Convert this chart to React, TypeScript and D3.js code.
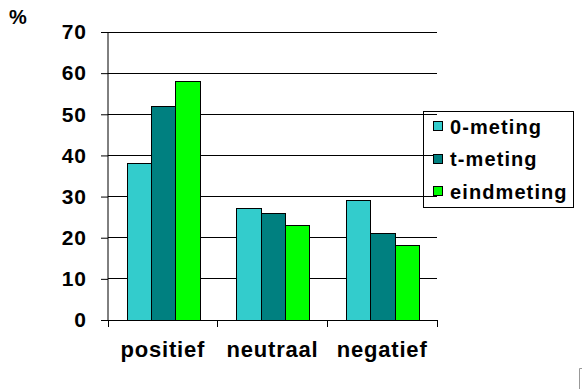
import React, { useEffect, useRef } from "react";
import * as d3 from "d3";

const categories = ["positief", "neutraal", "negatief"];
const seriesNames = ["0-meting", "t-meting", "eindmeting"];
const nulMeting = [38, 27, 29];
const tMeting = [52, 26, 21];
const eindMeting = [58, 23, 18];
const yTicks = [0, 10, 20, 30, 40, 50, 60, 70];
const colors = ["#33CCCC", "#008080", "#00FF00"];

const FONT = "'Liberation Sans', Arial, sans-serif";

export default function App() {
  const ref = useRef<SVGSVGElement | null>(null);

  useEffect(() => {
    if (!ref.current) return;
    const svg = d3.select(ref.current);
    svg.selectAll("*").remove();

    const left = 108;
    const right = 437;
    const top = 32;
    const bottom = 320;

    const values = [nulMeting, tMeting, eindMeting];

    const x = d3.scaleBand().domain(categories).range([left, right]).padding(0);
    const y = d3.scaleLinear().domain([0, 70]).range([bottom, top]);
    // bars take about 2/3 of each category, shifted a bit from the left
    const inner = d3
      .scaleBand()
      .domain(seriesNames)
      .range([19, 19 + 73]);

    // gridlines
    svg
      .append("g")
      .selectAll("line")
      .data(yTicks.filter((d) => d > 0))
      .enter()
      .append("line")
      .attr("x1", left)
      .attr("x2", right)
      .attr("y1", (d) => y(d))
      .attr("y2", (d) => y(d))
      .attr("stroke", "#000")
      .attr("stroke-width", 1)
      .attr("shape-rendering", "crispEdges");

    // bars
    categories.forEach((cat, ci) => {
      seriesNames.forEach((s, si) => {
        const v = values[si][ci];
        svg
          .append("rect")
          .attr("x", (x(cat) as number) + (inner(s) as number))
          .attr("y", y(v))
          .attr("width", inner.bandwidth())
          .attr("height", bottom - y(v))
          .attr("fill", colors[si])
          .attr("stroke", "#000")
          .attr("stroke-width", 1)
          .attr("shape-rendering", "crispEdges");
      });
    });

    // y axis
    const yAxis = svg
      .append("g")
      .attr("transform", `translate(${left},0)`)
      .call(d3.axisLeft(y).tickValues(yTicks).tickSize(7).tickPadding(14));
    yAxis.select(".domain").attr("stroke", "#000").attr("d", `M0,${top}V${bottom}`);
    yAxis.selectAll(".tick line").attr("stroke", "#000");
    yAxis
      .selectAll(".tick text")
      .attr("fill", "#000")
      .style("font-family", FONT)
      .style("font-size", "21px")
      .style("font-weight", "bold")
      .style("letter-spacing", "1px");

    // x axis
    const xAxis = svg
      .append("g")
      .attr("transform", `translate(0,${bottom})`);
    xAxis
      .append("line")
      .attr("x1", left)
      .attr("x2", right)
      .attr("y1", 0)
      .attr("y2", 0)
      .attr("stroke", "#000")
      .attr("shape-rendering", "crispEdges");
    const edges = [...categories.map((c) => x(c) as number), right];
    xAxis
      .selectAll("line.tk")
      .data(edges)
      .enter()
      .append("line")
      .attr("class", "tk")
      .attr("x1", (d) => d)
      .attr("x2", (d) => d)
      .attr("y1", 0)
      .attr("y2", 7)
      .attr("stroke", "#000")
      .attr("shape-rendering", "crispEdges");
    xAxis
      .selectAll("text")
      .data(categories)
      .enter()
      .append("text")
      .attr("x", (d) => (x(d) as number) + x.bandwidth() / 2)
      .attr("y", 37)
      .attr("text-anchor", "middle")
      .style("font-family", FONT)
      .style("font-size", "22px")
      .style("font-weight", "bold")
      .style("letter-spacing", "0.8px")
      .attr("fill", "#000")
      .text((d) => d);

    // unit label
    svg
      .append("text")
      .attr("x", 9)
      .attr("y", 24)
      .style("font-family", FONT)
      .style("font-size", "20px")
      .style("font-weight", "bold")
      .style("letter-spacing", "1px")
      .text("%");

    // legend
    const lg = svg.append("g").attr("transform", "translate(423,111)");
    lg.append("rect")
      .attr("width", 150)
      .attr("height", 96)
      .attr("fill", "none")
      .attr("stroke", "#000")
      .attr("shape-rendering", "crispEdges");
    seriesNames.forEach((s, i) => {
      const cy = 15 + i * 32.5;
      lg.append("rect")
        .attr("x", 10)
        .attr("y", cy - 4.5)
        .attr("width", 9)
        .attr("height", 9)
        .attr("fill", colors[i])
        .attr("stroke", "#000")
        .attr("shape-rendering", "crispEdges");
      lg.append("text")
        .attr("x", 27)
        .attr("y", cy + 7.5)
        .style("font-family", FONT)
        .style("font-size", "20px")
        .style("font-weight", "bold")
        .style("letter-spacing", "1.1px")
        .text(s);
    });

    // small corner mark
    svg
      .append("path")
      .attr("d", "M582,368.5H579.5V389")
      .attr("fill", "none")
      .attr("stroke", "#999");
  }, []);

  return (
    <svg
      ref={ref}
      width={582}
      height={389}
      style={{ position: "fixed", left: 0, top: 0, background: "#fff" }}
    />
  );
}
